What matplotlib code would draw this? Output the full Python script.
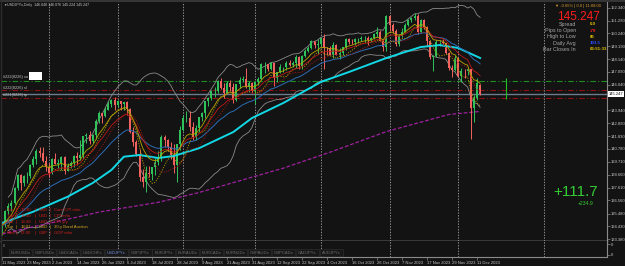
import matplotlib
matplotlib.use("Agg")
import matplotlib.pyplot as plt
import numpy as np
import pandas as pd

plt.rcParams['font.family'] = ['Liberation Sans', 'DejaVu Sans']

W, H = 625, 266

# USDJPYx daily bars, 11 May 2023 .. 12 Dec 2023
opens = [134.44, 134.51, 135.71, 136.13, 136.37, 137.59, 138.60, 137.95, 138.56, 138.58,
         139.48, 139.97, 140.61, 140.42, 139.82, 139.33, 138.80, 139.96, 139.57, 139.61,
         140.10, 139.00, 139.39, 139.59, 140.20, 140.02, 140.32, 141.83, 141.93, 141.45,
         141.89, 143.10, 143.70, 143.50, 143.96, 144.47, 144.82, 144.35, 144.68, 144.46,
         144.65, 144.06, 142.16, 141.33, 140.35, 138.47, 138.08, 138.78, 138.74, 139.32,
         139.68, 140.04, 141.79, 141.47, 140.92, 140.25, 139.43, 141.16, 142.29, 143.31,
         143.34, 142.55, 141.75, 142.47, 143.36, 143.75, 144.71, 144.96, 145.53, 145.56,
         146.36, 145.81, 145.38, 146.22, 145.87, 144.82, 146.07, 146.42, 146.53, 145.86,
         146.16, 145.54, 146.24, 146.48, 147.70, 147.70, 147.31, 147.81, 146.58, 147.10,
         147.46, 147.46, 147.85, 147.62, 147.86, 148.33, 147.58, 148.38, 148.83, 149.06,
         149.64, 149.31, 149.36, 149.86, 149.04, 149.03, 148.51, 149.32, 148.51, 148.64,
         149.15, 149.80, 149.56, 149.52, 149.78, 149.81, 149.85, 149.86, 149.68, 149.88,
         150.22, 150.38, 149.64, 149.14, 151.68, 150.94, 150.46, 149.38, 150.06, 150.38,
         150.95, 151.37, 151.51, 151.69, 150.38, 151.36, 150.74, 149.61, 148.35, 148.37,
         149.54, 149.55, 149.44, 148.67, 147.45, 147.21, 148.20, 146.79, 147.20, 147.15,
         147.29, 144.14, 144.95, 146.04]
highs = [134.85, 135.76, 136.32, 136.61, 137.66, 138.72, 138.74, 138.68, 138.91, 139.54,
         140.23, 140.73, 140.93, 140.91, 140.20, 139.63, 140.01, 140.46, 139.93, 140.22,
         140.23, 139.60, 139.81, 140.30, 140.50, 141.48, 141.79, 142.05, 142.24, 142.04,
         143.23, 143.87, 143.76, 144.20, 144.70, 144.91, 145.07, 144.80, 144.70, 144.66,
         144.70, 144.15, 142.58, 141.54, 140.74, 139.11, 139.41, 139.40, 139.31, 140.00,
         140.57, 141.95, 141.95, 141.57, 141.37, 141.22, 141.17, 142.68, 143.54, 143.89,
         143.89, 143.01, 142.70, 143.38, 143.84, 144.72, 145.03, 145.58, 145.86, 146.40,
         146.56, 146.14, 146.32, 146.40, 146.15, 146.10, 146.64, 146.75, 147.37, 146.35,
         146.30, 146.37, 146.67, 147.82, 147.87, 147.76, 147.87, 147.82, 147.10, 147.74,
         147.52, 147.95, 148.05, 148.00, 148.44, 148.39, 148.46, 148.97, 149.18, 149.71,
         149.65, 149.75, 149.91, 150.16, 149.17, 149.25, 149.53, 149.39, 149.02, 149.17,
         149.84, 149.83, 149.81, 149.89, 149.87, 150.07, 150.01, 150.00, 149.98, 150.25,
         150.78, 150.53, 149.78, 151.72, 151.72, 151.08, 150.62, 150.20, 150.66, 151.09,
         151.43, 151.59, 151.92, 151.87, 151.43, 151.44, 150.82, 149.73, 148.47, 149.74,
         149.71, 149.78, 149.47, 148.73, 147.63, 148.45, 148.30, 147.44, 147.36, 147.45,
         147.32, 145.21, 146.59, 146.076]
lows = [133.75, 134.36, 135.44, 135.67, 136.29, 137.42, 137.43, 137.77, 138.02, 138.42,
        139.31, 139.53, 140.13, 139.74, 138.95, 138.44, 138.72, 139.55, 139.20, 139.08,
        138.76, 138.93, 139.25, 139.28, 139.50, 139.86, 139.99, 141.26, 141.21, 141.27,
        141.63, 142.93, 142.94, 143.43, 143.93, 144.24, 143.98, 144.25, 143.95, 143.94,
        143.55, 142.08, 140.98, 140.17, 138.16, 137.68, 137.24, 138.48, 138.19, 138.63,
        139.50, 139.75, 140.95, 140.61, 139.98, 138.80, 138.06, 140.68, 142.25, 142.95,
        142.26, 141.54, 141.52, 142.19, 143.05, 143.35, 144.27, 144.80, 145.07, 145.40,
        145.67, 144.96, 145.33, 145.54, 144.54, 144.70, 145.74, 146.26, 145.74, 145.45,
        145.35, 144.44, 146.05, 146.43, 147.01, 147.19, 147.25, 145.91, 146.28, 146.98,
        147.05, 147.27, 147.54, 147.52, 147.37, 147.31, 147.34, 148.34, 148.72, 148.94,
        149.03, 148.52, 149.23, 147.31, 148.45, 148.50, 148.22, 148.51, 148.16, 148.50,
        148.90, 149.36, 149.36, 149.29, 149.45, 149.63, 149.58, 149.33, 149.58, 149.76,
        149.96, 149.66, 148.81, 148.80, 150.41, 150.32, 149.20, 149.25, 149.98, 150.36,
        150.83, 151.20, 151.34, 150.16, 150.30, 150.61, 149.20, 148.11, 147.15, 148.30,
        149.25, 149.34, 148.53, 147.26, 146.67, 147.17, 146.65, 146.23, 146.55, 146.87,
        141.63, 142.98, 144.82, 145.224]
closes = [134.51, 135.71, 136.13, 136.37, 137.59, 138.60, 137.95, 138.56, 138.58, 139.48,
          139.97, 140.61, 140.42, 139.82, 139.33, 138.80, 139.96, 139.57, 139.61, 140.10,
          139.00, 139.39, 139.59, 140.20, 140.02, 140.32, 141.83, 141.93, 141.45, 141.89,
          143.10, 143.70, 143.50, 143.96, 144.47, 144.82, 144.35, 144.68, 144.46, 144.65,
          144.06, 142.16, 141.33, 140.35, 138.47, 138.08, 138.78, 138.74, 139.32, 139.68,
          140.04, 141.79, 141.47, 140.92, 140.25, 139.43, 141.16, 142.29, 143.31, 143.34,
          142.55, 141.75, 142.47, 143.36, 143.75, 144.71, 144.96, 145.53, 145.56, 146.36,
          145.81, 145.38, 146.22, 145.87, 144.82, 146.07, 146.42, 146.53, 145.86, 146.16,
          145.54, 146.24, 146.48, 147.70, 147.70, 147.31, 147.81, 146.58, 147.10, 147.46,
          147.46, 147.85, 147.62, 147.86, 148.33, 147.58, 148.38, 148.83, 149.06, 149.64,
          149.31, 149.36, 149.86, 149.04, 149.03, 148.51, 149.32, 148.51, 148.64, 149.15,
          149.80, 149.56, 149.52, 149.78, 149.81, 149.85, 149.86, 149.68, 149.88, 150.22,
          150.38, 149.64, 149.14, 151.68, 150.94, 150.46, 149.38, 150.06, 150.38, 150.95,
          151.37, 151.51, 151.69, 150.38, 151.36, 150.74, 149.61, 148.35, 148.37, 149.54,
          149.55, 149.44, 148.67, 147.45, 147.21, 148.20, 146.79, 147.20, 147.15, 147.29,
          144.14, 144.95, 146.19, 145.247]

date_labels = ["11 May 2023", "23 May 2023", "2 Jun 2023", "14 Jun 2023", "26 Jun 2023",
               "6 Jul 2023", "18 Jul 2023", "28 Jul 2023", "9 Aug 2023", "21 Aug 2023",
               "31 Aug 2023", "12 Sep 2023", "22 Sep 2023", "4 Oct 2023", "16 Oct 2023",
               "26 Oct 2023", "7 Nov 2023", "17 Nov 2023", "29 Nov 2023", "11 Dec 2023"]
month_starts = [15, 37, 58, 81, 102, 124, 146, 173.4]

# slow moving averages (bar index, price)
ma50_idx = [0, 10, 21, 29, 35, 39, 44, 50, 55, 63, 74, 80, 90, 102, 111, 123, 134, 140, 146, 153]
ma50_val = [134.70, 135.63, 136.86, 137.98, 139.05, 140.14, 140.28, 140.03, 140.20, 140.83,
            142.16, 143.31, 144.54, 146.26, 147.08, 148.23, 149.13, 149.29, 149.05, 148.23]
ma200_idx = [0, 10, 26, 31, 50, 63, 90, 106, 123, 143, 153]
ma200_val = [133.80, 134.40, 135.30, 135.60, 136.40, 137.20, 139.20, 140.60, 142.20, 143.60, 143.85]

price_ticks = [152.340, 151.290, 150.240, 149.190, 148.140, 147.090, 146.040, 143.940,
               142.890, 141.830, 140.780, 139.710, 138.660, 137.610, 136.560, 135.480,
               134.430, 133.380]
bid = 145.247
tp_level, sl_level, so_level = 144.92, 145.58, 146.37

tabs = ["EURUSDx", "GBPUSDx", "USDCADx", "USDCHFx", "USDJPYx", "GBPJPYx", "EURJPYx",
        "EURAUDx", "EURCADx", "EURNZDx", "GBPAUDx", "GBPCADx", "CADJPYx", "AUDJPYx"]

events = [("Tue", "13:30", "USD", "Core CPI m/m"),
          ("Tue", "13:30", "USD", "CPI m/m"),
          ("Tue", "13:30", "USD", "CPI y/y"),
          ("Tue", "18:01", "USD", "30-y Bond Auction"),
          ("Wed", "07:00", "GBP", "GDP m/m")]
event_colors = ["#d01c1c", "#d01c1c", "#d01c1c", "#d0a020", "#d01c1c"]

BG = "#131313"
UP, DN = "#2fc25b", "#f2625e"
TXT = "#c8c8c8"


def fx(x):
    return x / W


def fy(y):
    return 1 - y / H


fig = plt.figure(figsize=(W / 100, H / 100), dpi=100, facecolor=BG)
ax = fig.add_axes([1 / W, 25 / H, 606 / W, 239 / H], facecolor=BG)
sub = fig.add_axes([1 / W, 9 / H, 606 / W, 16 / H], facecolor=BG)

o, h, l, c = map(np.array, (opens, highs, lows, closes))
x = np.arange(len(c))
col = np.where(c >= o, UP, DN)

# indicators
s = pd.Series(c)
ema8 = s.ewm(span=8, adjust=False).mean()
ema13 = s.ewm(span=13, adjust=False).mean()
ema25 = s.ewm(span=25, adjust=False).mean()
low5 = pd.Series(l).rolling(5, min_periods=1).mean()
low10 = pd.Series(l).rolling(10, min_periods=1).mean()
mid = s.rolling(20, min_periods=3).mean()
sd = s.rolling(20, min_periods=3).std(ddof=0)

ax.plot(x, mid + 2 * sd, color="#8a8a8a", lw=0.6, zorder=3)
ax.plot(x, mid - 2 * sd, color="#8a8a8a", lw=0.6, zorder=3)
ax.plot(ma200_idx, ma200_val, color="#a020a0", lw=0.9, ls=(0, (3, 1.5)), zorder=3)
ax.plot(ma50_idx, ma50_val, color="#12d8e6", lw=1.4, zorder=6)
ax.plot(x, ema25, color="#2c6cb4", lw=0.7, zorder=6)
ax.plot(x, low10, color="#9a1414", lw=0.6, ls=(0, (1.5, 1.5)), zorder=6)
ax.plot(x, low5, color="#b09a00", lw=0.6, ls=(0, (1.5, 1.5)), zorder=6)
ax.plot(x, ema13, color="#c01818", lw=0.6, zorder=6)
ax.plot(x, ema8, color="#b8a400", lw=0.6, zorder=6)

# candles
ax.vlines(x, l, h, colors=col, lw=0.7, zorder=4)
ax.bar(x, np.maximum(np.abs(c - o), 0.03), bottom=np.minimum(o, c), width=0.62,
       color=col, lw=0, zorder=5)

# order levels and bid line
ax.axhline(so_level, color="#1f8c1f", lw=0.8, ls=(0, (5, 2, 1, 2)), zorder=2)
ax.axhline(sl_level, color="#8e1212", lw=0.8, ls=(0, (5, 2, 1, 2)), zorder=2)
ax.axhline(tp_level, color="#8e1212", lw=0.8, ls=(0, (5, 2, 1, 2)), zorder=2)
ax.axhline(bid, color="#6c7c8c", lw=1.0, zorder=2)
ax.vlines(161.2, 144.9, 146.6, color="#22c022", lw=0.8, zorder=6)

for m in month_starts:
    ax.axvline(m, color="#bdbdbd", lw=0.5, ls=(0, (2, 2)), zorder=1)
    sub.axvline(m, color="#bdbdbd", lw=0.5, ls=(0, (2, 2)), zorder=1)

ax.set_xlim(-0.32, 193.6)
ax.set_ylim(133.23, 152.82)
sub.set_xlim(-0.32, 193.6)
sub.set_ylim(0, 1)

for a in (ax, sub):
    a.spines["left"].set_visible(False)
    a.spines["top"].set_visible(False)
    a.spines["right"].set_color("#8a8a8a")
    a.spines["right"].set_linewidth(0.8)
    a.yaxis.tick_right()
    a.tick_params(axis="y", colors="#8a8a8a", labelcolor=TXT, labelsize=3, length=2,
                  width=0.5, pad=1)
ax.spines["bottom"].set_color("#d0d0d0")
ax.spines["bottom"].set_linewidth(1.0)
sub.spines["bottom"].set_color("#8a8a8a")
sub.spines["bottom"].set_linewidth(0.8)

ax.set_xticks([])
ax.set_yticks(price_ticks)
ax.set_yticklabels([f"{v:.3f}" for v in price_ticks])
sub.set_yticks([0.14, 0.81])
sub.set_yticklabels(["0", "0"])
sub.set_xticks(range(0, len(c), 8))
sub.set_xticklabels(date_labels, ha="left")
sub.tick_params(axis="x", colors="#8a8a8a", labelcolor=TXT, labelsize=3, length=2,
                width=0.5, pad=1)

# bid price box
ax.text(1.003, bid, f"{bid:.3f}", transform=ax.get_yaxis_transform(), fontsize=3,
        color="#111111", va="center", ha="left",
        bbox=dict(boxstyle="square,pad=0.25", fc="white", ec="none"))

# header text
fig.text(fx(3), fy(5), "▼", fontsize=2.4, color=TXT, va="center")
fig.text(fx(7), fy(5), "USDJPYx,Daily  146.040 146.076 145.224 145.247", fontsize=2.6,
         color=TXT, va="center")

# order labels
fig.text(fx(3), fy(76.7), "#222(8226) so", fontsize=2.8, color=TXT, va="center")
fig.patches.append(plt.Rectangle((fx(29), fy(80)), 13 / W, 8 / H, transform=fig.transFigure,
                                 fc="white", ec="none", zorder=5))
fig.text(fx(3), fy(88.3), "#222(8226) sl", fontsize=2.8, color=TXT, va="center")
fig.text(fx(3), fy(95), "#221(8226) tp", fontsize=2.8, color=TXT, va="center")

# info panel (top right)
fig.text(fx(578), fy(6), "▼ -0.65% | 0.0 | 11:08:00", fontsize=3, color="#d89a30",
         ha="center", va="center")
fig.text(fx(578), fy(16.5), "145.247", fontsize=8.5, color="#ff1c1c", ha="center",
         va="center")
info_rows = ["Spread", "Pips to Open", "High to Low", "Daily Avg", "Bar Closes In"]
info_vals = ["0.0", "-79", "85", "103.5", "06:51:33"]
info_cols = ["#e0c000", "#ff2020", "#e0c000", "#2a4cff", "#e0c000"]
for k, (lab, val, vc) in enumerate(zip(info_rows, info_vals, info_cols)):
    yy = 24.3 + 6.25 * k
    fig.text(fx(576), fy(yy), lab, fontsize=3.9, color="#a6a6a6", ha="right", va="center")
    fig.text(fx(590), fy(yy), val, fontsize=3.2, color=vc, ha="left", va="center",
             fontweight="bold")

# profit display
fig.text(fx(575.5), fy(192.5), "+111.7", fontsize=11, color="#34cc34", ha="center",
         va="center")
fig.text(fx(585.5), fy(203.7), "+234.9", fontsize=3.7, color="#34cc34", ha="center",
         va="center")

# calendar events
for k, (day, tm, cur, name) in enumerate(events):
    yy = 210 + 5.8 * k
    ec = event_colors[k]
    for xx, t in ((7, day), (16, "|"), (21, tm), (35, "|"), (39, cur), (50, "|"), (54, name)):
        fig.text(fx(xx), fy(yy), t, fontsize=3.1, color=ec, va="center")

# symbol tabs
fig.text(fx(3), fy(246), "0", fontsize=2.5, color="#9a9a9a", va="center")
for k, t in enumerate(tabs):
    x0 = 9 + 23.9 * k
    fig.patches.append(plt.Rectangle((fx(x0), fy(256)), 23 / W, 7 / H,
                                     transform=fig.transFigure, fc="#181818",
                                     ec="#303030", lw=0.4))
    fig.text(fx(x0 + 11.5), fy(252.5), t, fontsize=3, ha="center", va="center",
             color="#6f8fe0" if t == "USDJPYx" else "#6e6e6e")

# window border
fig.add_artist(plt.Line2D([0, 1], [fy(0.5), fy(0.5)], transform=fig.transFigure,
                          color="#3c3c3c", lw=1.2))
fig.add_artist(plt.Line2D([fx(0.5), fx(0.5)], [0, 1], transform=fig.transFigure,
                          color="#2c2c2c", lw=1.0))

fig.savefig("out.png", dpi=100, facecolor=BG)
